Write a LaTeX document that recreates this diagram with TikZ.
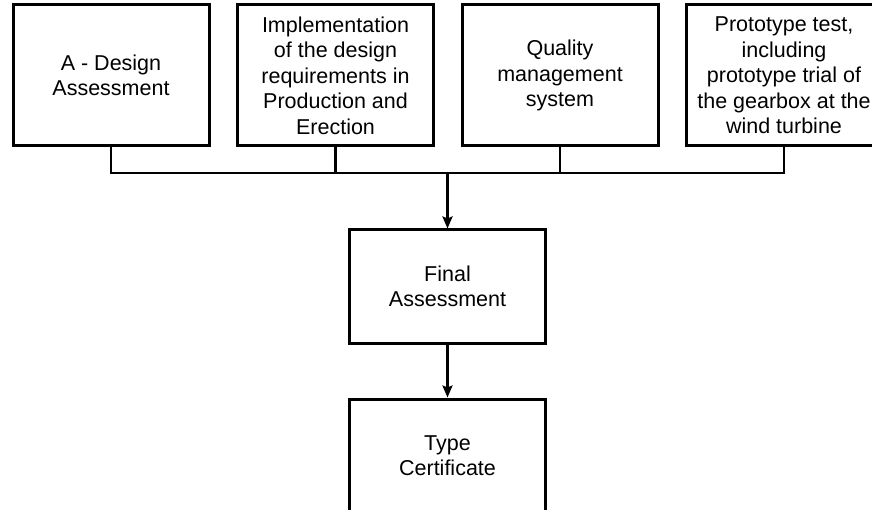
\documentclass[tikz,border=0pt]{standalone}
\usepackage{fontspec}
\setmainfont{Liberation Sans}
\usetikzlibrary{arrows.meta}
\begin{document}
\begin{tikzpicture}[x=1pt,y=-1pt,
  box/.style={draw, line width=3pt, minimum width=196pt, minimum height=141pt,
    align=center, inner sep=0pt, font=\fontsize{21.5}{25.5}\selectfont},
  conn/.style={line width=2.6pt},
  arr/.style={line width=2.8pt, -{Stealth[length=12pt,width=10pt,inset=2pt]}},
  arrthin/.style={line width=2.2pt, -{Stealth[length=12pt,width=10pt,inset=2pt]}}]
\useasboundingbox (0,0) rectangle (872,510);
\clip (0,0) rectangle (872,510);
\node[box] (a) at (111,75.5) {A - Design\\Assessment};
\node[box] (b) at (335.5,75.5) {Implementation\\of the design\\requirements in\\Production and\\Erection};
\node[box] (c) at (560,75.5) {Quality\\management\\system};
\node[box] (d) at (784,75.5) {Prototype test,\\including\\prototype trial of\\the gearbox at the\\wind turbine};
\node[box, minimum height=113pt] (f) at (447.5,286.5) {Final\\Assessment};
\node[box, minimum height=113pt] (t) at (447.5,455.5) {Type\\Certificate};
\coordinate (busL) at (a.south |- 0,173);
\coordinate (busR) at (d.south |- 0,173);
\coordinate (busM) at (f.north |- 0,173);
\draw[conn] (a.south) -- (busL) -- (busR) -- (d.south);
\draw[conn] (b.south) -- (b.south |- busL);
\draw[conn] (c.south) -- (c.south |- busL);
\draw[arr] (busM) -- (f.north);
\draw[arrthin] (f.south) -- (t.north);
\end{tikzpicture}
\end{document}
